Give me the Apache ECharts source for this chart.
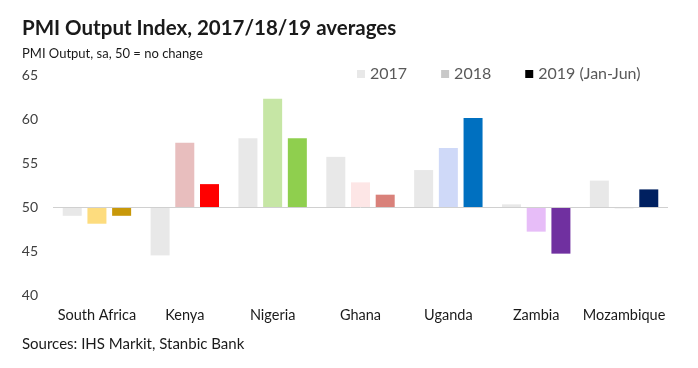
<!DOCTYPE html>
<html><head><meta charset="utf-8">
<script src="https://cdn.jsdelivr.net/npm/echarts@6/dist/echarts.min.js"></script>
<style>html,body{margin:0;padding:0;background:#fff}#c{width:698px;height:368px}</style>
</head><body><div id="c"></div>
<script>
var categories = ['South Africa','Kenya','Nigeria','Ghana','Uganda','Zambia','Mozambique'];
var v2017 = [49.0, 44.5, 57.8, 55.7, 54.2, 50.3, 53.0];
var v2018 = [48.1, 57.3, 62.3, 52.8, 56.7, 47.2, 49.85];
var v2019 = [49.0, 52.6, 57.8, 51.4, 60.1, 44.7, 52.0];
var c2017 = ['#e8e8e8','#e8e8e8','#e8e8e8','#e8e8e8','#e8e8e8','#e8e8e8','#e8e8e8'];
var c2018 = ['#fddc7e','#e8bebe','#c6e6a5','#fde6e6','#cfd9f8','#e7bdf8','#dcdcdc'];
var c2019 = ['#c8980a','#ff0000','#8fcf4e','#d9817a','#0070c0','#7030a0','#002060'];
var seriesNames = ['2017','2018','2019 (Jan-Jun)'];
var legendColors = ['#e8e8e8','#c8c8c8','#000000'];
var BASE = 50;
var yTicks = [40,45,50,55,60,65];

var F = 'Lato, "Liberation Sans", sans-serif';
function mk(vals, cols){ return vals.map(function(v,i){ return {value: v-BASE, itemStyle:{color: cols[i]}}; }); }
var chart = echarts.init(document.getElementById('c'), null, {renderer:'canvas'});
var allVals=[v2017,v2018,v2019], allCols=[c2017,c2018,c2019];
var series = seriesNames.map(function(n,k){
  var s = {name:n, type:'bar', barWidth:19, barGap:'30%', itemStyle:{color:legendColors[k]}, data: mk(allVals[k], allCols[k]), animation:false};
  if(k===0){ s.markLine = {silent:true, symbol:'none', label:{show:false}, lineStyle:{color:'#d0d0d0', width:1, type:'solid'}, data:[{yAxis:0}], animation:false}; }
  return s;
});
chart.setOption({
  animation:false,
  title:[{text:'PMI Output Index, 2017/18/19 averages', left:17, top:13, textStyle:{fontFamily:F, fontWeight:'bold', fontSize:20.5, color:'#1a1a1a'}},
         {text:'PMI Output, sa, 50 = no change', left:17, top:42, textStyle:{fontFamily:F, fontWeight:'normal', fontSize:13, color:'#1a1a1a'}},
         {text:'Sources: IHS Markit, Stanbic Bank', left:17, top:332, textStyle:{fontFamily:F, fontWeight:'normal', fontSize:15, color:'#1a1a1a'}}],
  legend:{data:seriesNames, top:61, left:352, itemWidth:8, itemHeight:8, itemGap:34, icon:'rect', textStyle:{fontFamily:F, fontSize:16, color:'#595959'}},
  grid:{left:53, right:30, top:75, bottom:73},
  xAxis:{type:'category', data:categories, axisLine:{show:false, onZero:false}, axisTick:{show:false}, axisLabel:{fontFamily:F, fontSize:14.5, color:'#1a1a1a', margin:13, interval:0}},
  yAxis:{type:'value', min:yTicks[0]-BASE, max:yTicks[yTicks.length-1]-BASE, interval:5, splitLine:{show:false}, axisLine:{show:false}, axisTick:{show:false},
         axisLabel:{fontFamily:F, fontSize:14, color:'#404040', margin:15, formatter:function(v){return String(v+BASE);}}},
  series: series
});
</script></body></html>
